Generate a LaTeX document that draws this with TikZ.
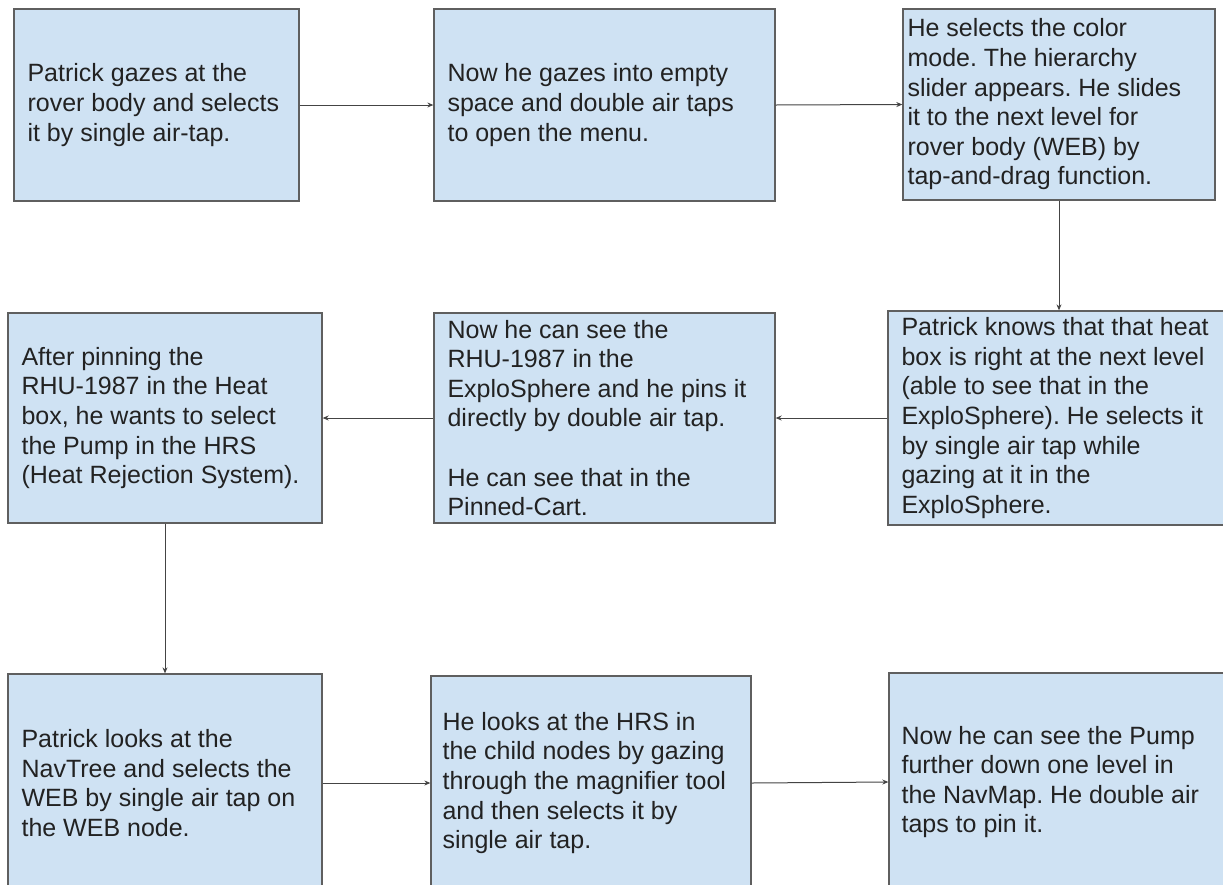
\documentclass[tikz,border=0pt]{standalone}
\usepackage{fontspec}
\setmainfont{Liberation Sans}
\usetikzlibrary{arrows.meta}
\definecolor{boxfill}{HTML}{CFE2F3}
\definecolor{boxline}{HTML}{5F5F5F}
\definecolor{inkcol}{HTML}{222222}
\definecolor{flowline}{HTML}{444444}
\frenchspacing
\begin{document}
\begin{tikzpicture}[x=1pt,y=-1pt,
  stepbox/.style={draw=boxline, fill=boxfill, line width=1.3pt, inner sep=0pt},
  steptext/.style={anchor=west, align=left, inner sep=0pt, text=inkcol,
    font=\fontsize{25}{29.6}\selectfont},
  flow/.style={draw=flowline, line width=1pt, -{Stealth[length=6pt,width=5pt]}}]
\useasboundingbox[fill=white] (0,0) rectangle (1223,884);

% boxes: centre, width, height
\node[stepbox, minimum width=285pt, minimum height=192pt] (b1) at (156.5,105) {};
\node[stepbox, minimum width=341pt, minimum height=192pt] (b2) at (604.5,105) {};
\node[stepbox, minimum width=312pt, minimum height=191pt] (b3) at (1059,104.5) {};
\node[stepbox, minimum width=314pt, minimum height=210pt] (b4) at (165,418) {};
\node[stepbox, minimum width=341pt, minimum height=210pt] (b5) at (604.5,418) {};
\node[stepbox, minimum width=362pt, minimum height=214pt] (b6) at (1069,418) {};
\node[stepbox, minimum width=314pt, minimum height=218pt] (b7) at (165,783) {};
\node[stepbox, minimum width=320pt, minimum height=214pt] (b8) at (591,783) {};
\node[stepbox, minimum width=361pt, minimum height=218pt] (b9) at (1069.5,782) {};

% texts
\node[steptext] (t1) at ([xshift=14pt]b1.west) {Patrick gazes at the\\rover body and selects\\it by single air-tap.};
\node[steptext] (t2) at ([xshift=14pt]b2.west) {Now he gazes into empty\\space and double air taps\\to open the menu.};
\node[steptext] (t3) at ([xshift=5pt]b3.west) {He selects the color\\mode. The hierarchy\\slider appears. He slides\\it to the next level for\\rover body (WEB) by\\tap-and-drag function.};
\node[steptext] (t4) at ([xshift=14pt]b4.west) {After pinning the\\RHU-1987 in the Heat\\box, he wants to select\\the Pump in the HRS\\(Heat Rejection System).};
\node[steptext] (t5) at ([xshift=14pt]b5.west) {Now he can see the\\RHU-1987 in the\\ExploSphere and he pins it\\directly by double air tap.\\[29.6pt]He can see that in the\\Pinned-Cart.};
\node[steptext] (t6) at ([xshift=14pt]b6.west) {Patrick knows that that heat\\box is right at the next level\\(able to see that in the\\ExploSphere). He selects it\\by single air tap while\\gazing at it in the\\ExploSphere.};
\node[steptext] (t7) at ([xshift=14pt]b7.west) {Patrick looks at the\\NavTree and selects the\\WEB by single air tap on\\the WEB node.};
\node[steptext] (t8) at ([xshift=12pt]b8.west) {He looks at the HRS in\\the child nodes by gazing\\through the magnifier tool\\and then selects it by\\single air tap.};
\node[steptext] (t9) at ([xshift=13pt]b9.west) {Now he can see the Pump\\further down one level in\\the NavMap. He double air\\taps to pin it.};

% connectors
\draw[flow] (b1.east) -- (b2.west);
\draw[flow] (b2.east) -- (b3.west);
\draw[flow] (b3.south) -- (b3.south |- b6.north);
\draw[flow] (b6.west) -- (b5.east);
\draw[flow] (b5.west) -- (b4.east);
\draw[flow] (b4.south) -- (b7.north);
\draw[flow] (b7.east) -- (b8.west);
\draw[flow] (b8.east) -- (b9.west);
\end{tikzpicture}
\end{document}
